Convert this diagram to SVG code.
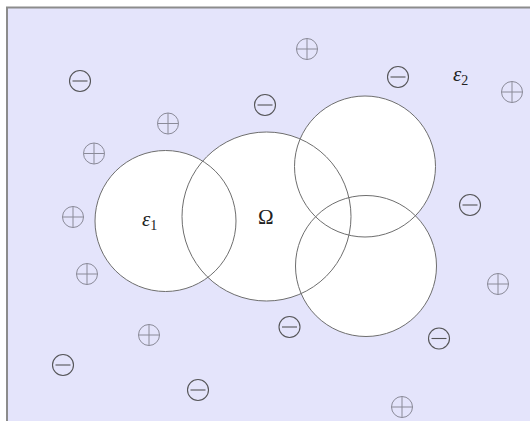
<svg xmlns="http://www.w3.org/2000/svg" width="530" height="421" viewBox="0 0 530 421">
<style>
.reg{fill:#ffffff;stroke:none}
.outl{fill:none;stroke:#6e6e6e;stroke-width:1}
.pos{stroke:#8a8a98;stroke-width:1;fill:none}
.neg{stroke:#555558;stroke-width:1.1;fill:none}
.lbl{font-family:"Liberation Serif","DejaVu Serif",serif;fill:#222}
</style>
<defs>
<g id="plus"><circle cx="0" cy="0" r="10.5" fill="none"/><path d="M-10.5 0H10.5M0 -10.5V10.5" fill="none"/></g>
<g id="minus"><circle cx="0" cy="0" r="10.5" fill="none"/><path d="M-7.5 0H7.5" fill="none"/></g>
</defs>
<rect x="7" y="7.5" width="540" height="430" fill="#e4e4fb" stroke="#8c8c8c" stroke-width="2"/>
<g id="regions">
<circle class="reg" cx="165.5" cy="221" r="70.5"/>
<circle class="reg" cx="266.5" cy="216.5" r="84.5"/>
<circle class="reg" cx="365" cy="166.5" r="70.5"/>
<circle class="reg" cx="366" cy="266" r="70.5"/>
<circle class="outl" cx="165.5" cy="221" r="70.5"/>
<circle class="outl" cx="266.5" cy="216.5" r="84.5"/>
<circle class="outl" cx="365" cy="166.5" r="70.5"/>
<circle class="outl" cx="366" cy="266" r="70.5"/>
</g>
<g id="labels">
<text class="lbl" x="142" y="226" font-size="21" font-style="italic">ε<tspan font-style="normal" font-size="14" dy="4">1</tspan></text>
<text class="lbl" x="258" y="224" font-size="21">Ω</text>
<text class="lbl" x="453" y="81" font-size="21" font-style="italic">ε<tspan font-style="normal" font-size="14" dy="4">2</tspan></text>
</g>
<g id="charges">
<use class="neg" href="#minus" x="80" y="81"/>
<use class="pos" href="#plus" x="307" y="49"/>
<use class="neg" href="#minus" x="398" y="77"/>
<use class="pos" href="#plus" x="512" y="92"/>
<use class="neg" href="#minus" x="265" y="105"/>
<use class="pos" href="#plus" x="168" y="123.5"/>
<use class="pos" href="#plus" x="94" y="153.5"/>
<use class="pos" href="#plus" x="73" y="217"/>
<use class="neg" href="#minus" x="470" y="205"/>
<use class="pos" href="#plus" x="87" y="274"/>
<use class="pos" href="#plus" x="498" y="284"/>
<use class="pos" href="#plus" x="149" y="335"/>
<use class="neg" href="#minus" x="289.5" y="327"/>
<use class="neg" href="#minus" x="439" y="338.5"/>
<use class="neg" href="#minus" x="63" y="365"/>
<use class="neg" href="#minus" x="198" y="390"/>
<use class="pos" href="#plus" x="402" y="407"/>
</g>
</svg>
